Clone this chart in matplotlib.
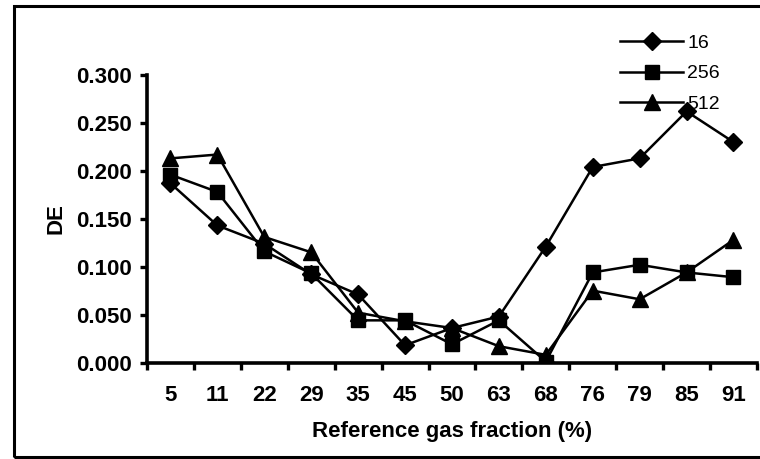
import matplotlib
matplotlib.use('Agg')
import matplotlib.pyplot as plt
import numpy as np
from matplotlib.patches import Rectangle

# data
fractions = ['5', '11', '22', '29', '35', '45', '50', '63', '68', '76', '79', '85', '91']
de_16 = [0.187, 0.143, 0.124, 0.092, 0.071, 0.018, 0.036, 0.048, 0.121, 0.204, 0.213, 0.262, 0.230]
de_256 = [0.196, 0.178, 0.116, 0.093, 0.044, 0.044, 0.019, 0.044, 0.001, 0.094, 0.102, 0.094, 0.089]
de_512 = [0.213, 0.217, 0.131, 0.115, 0.052, 0.043, 0.036, 0.017, 0.008, 0.075, 0.066, 0.094, 0.128]
y_ticks = [0.0, 0.05, 0.10, 0.15, 0.20, 0.25, 0.30]

plt.rcParams['font.family'] = ['Liberation Sans', 'DejaVu Sans']

fig = plt.figure(figsize=(7.6, 4.59), dpi=100)
ax = fig.add_axes([0.1934, 0.2102, 0.8026, 0.6264])

x = np.arange(len(fractions)) + 0.5
ax.plot(x, de_16, marker='D', label='16', color='black', linewidth=1.8, markersize=9.5)
ax.plot(x, de_256, marker='s', label='256', color='black', linewidth=1.8, markersize=10)
ax.plot(x, de_512, marker='^', label='512', color='black', linewidth=1.8, markersize=11)

ax.set_xlim(0, len(fractions))
ax.set_ylim(0, 0.3)
ax.set_xticks(np.arange(len(fractions) + 1))
ax.set_xticklabels([])
ax.set_xticks(x, minor=True)
ax.set_xticklabels(fractions, minor=True)
ax.tick_params(axis='x', which='minor', length=0, pad=16)
ax.tick_params(axis='x', which='major', length=5, width=2.4, direction='out')
ax.set_yticks(y_ticks)
ax.set_yticklabels([f'{v:.3f}' for v in y_ticks])
ax.tick_params(axis='y', length=5, width=2.4, direction='out', pad=6)
for lab in ax.get_xticklabels(minor=True) + ax.get_yticklabels():
    lab.set_fontsize(16)
    lab.set_fontweight('bold')

for side in ['top', 'right']:
    ax.spines[side].set_visible(False)
for side in ['left', 'bottom']:
    ax.spines[side].set_linewidth(2.6)

ax.set_xlabel('Reference gas fraction (%)', fontsize=16, fontweight='bold', labelpad=11)
ax.set_ylabel('DE', fontsize=16, fontweight='bold', labelpad=7)

leg = fig.legend(loc='upper left', bbox_to_anchor=(620 / 760, 1 - 34 / 459), frameon=False,
                 fontsize=14, handlelength=3.25, handletextpad=0.2, labelspacing=0.68,
                 borderpad=0, borderaxespad=0)

# outer frame around the whole figure
fig.patches.append(Rectangle((13.5 / 760, 2.5 / 459), 0.99, 451 / 459,
                             transform=fig.transFigure, fill=False,
                             edgecolor='black', linewidth=2.2))

fig.savefig('out.png', dpi=100)
